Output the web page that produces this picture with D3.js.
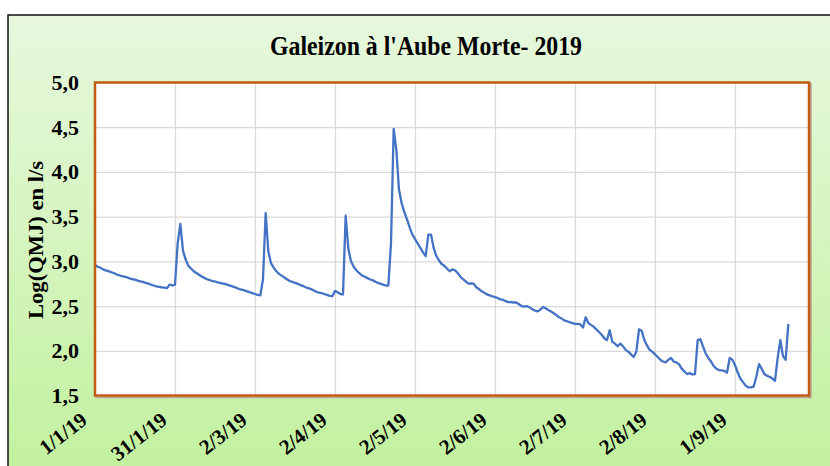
<!DOCTYPE html>
<html lang="fr">
<head>
<meta charset="utf-8">
<script src="https://cdn.jsdelivr.net/npm/d3@7"></script>
<style>
  body { margin: 0; background: #fff; }
  text { font-family: "Liberation Serif", "Times New Roman", serif; font-weight: bold; fill: #000; }
</style>
</head>
<body>
<div id="chart"></div>
<script>
  const title = "Galeizon à l'Aube Morte- 2019";
  const yTitle = "Log(QMJ) en l/s";

  // x axis: day index from 1/1/19, one label every 30 days
  const tickDays = [0, 30, 60, 90, 120, 150, 180, 210, 240];
  const tickLabels = ["1/1/19", "31/1/19", "2/3/19", "2/4/19", "2/5/19", "2/6/19", "2/7/19", "2/8/19", "1/9/19"];
  const yTicks = [1.5, 2.0, 2.5, 3.0, 3.5, 4.0, 4.5, 5.0];

  // daily Log(QMJ)
  const qmj = [
    2.96, 2.94, 2.93, 2.91, 2.90, 2.89, 2.88, 2.87, 2.855, 2.845,
    2.835, 2.83, 2.82, 2.81, 2.80, 2.795, 2.785, 2.775, 2.77, 2.76,
    2.75, 2.74, 2.73, 2.72, 2.715, 2.71, 2.705, 2.70, 2.74, 2.73,
    2.74, 3.20, 3.42, 3.12, 3.02, 2.95, 2.92, 2.89, 2.87, 2.85,
    2.83, 2.815, 2.80, 2.79, 2.78, 2.775, 2.765, 2.76, 2.75, 2.745,
    2.735, 2.725, 2.715, 2.705, 2.69, 2.685, 2.675, 2.665, 2.655, 2.645,
    2.635, 2.625, 2.62, 2.80, 3.54, 3.11, 2.98, 2.93, 2.89, 2.86,
    2.84, 2.82, 2.80, 2.78, 2.77, 2.76, 2.75, 2.735, 2.725, 2.71,
    2.70, 2.69, 2.675, 2.66, 2.65, 2.645, 2.635, 2.625, 2.615, 2.61,
    2.67, 2.655, 2.635, 2.63, 3.51, 3.14, 3.00, 2.94, 2.90, 2.87,
    2.845, 2.83, 2.815, 2.80, 2.79, 2.775, 2.76, 2.75, 2.74, 2.73,
    2.73, 3.20, 4.48, 4.25, 3.80, 3.65, 3.55, 3.47, 3.38, 3.30,
    3.25, 3.20, 3.15, 3.10, 3.06, 3.30, 3.30, 3.15, 3.06, 3.01,
    2.97, 2.95, 2.92, 2.89, 2.91, 2.90, 2.87, 2.83, 2.80, 2.775,
    2.75, 2.755, 2.75, 2.71, 2.69, 2.665, 2.65, 2.63, 2.62, 2.61,
    2.60, 2.59, 2.575, 2.57, 2.555, 2.545, 2.545, 2.54, 2.54, 2.52,
    2.50, 2.495, 2.50, 2.485, 2.465, 2.45, 2.44, 2.46, 2.49, 2.475,
    2.455, 2.44, 2.42, 2.40, 2.375, 2.36, 2.34, 2.33, 2.32, 2.31,
    2.30, 2.30, 2.295, 2.26, 2.375, 2.31, 2.29, 2.27, 2.24, 2.21,
    2.18, 2.14, 2.12, 2.23, 2.10, 2.08, 2.05, 2.08, 2.05, 2.01,
    1.99, 1.96, 1.93, 1.99, 2.24, 2.225, 2.12, 2.06, 2.01, 1.99,
    1.96, 1.93, 1.90, 1.88, 1.87, 1.90, 1.92, 1.88, 1.87, 1.85,
    1.80, 1.77, 1.74, 1.75, 1.735, 1.74, 2.12, 2.13, 2.05, 1.97,
    1.92, 1.88, 1.83, 1.80, 1.785, 1.78, 1.775, 1.755, 1.92, 1.90,
    1.84, 1.76, 1.69, 1.65, 1.61, 1.59, 1.59, 1.60, 1.71, 1.85,
    1.80, 1.74, 1.72, 1.71, 1.69, 1.665, 1.92, 2.12, 1.94, 1.90,
    2.30
  ];

  const svgWidth = 830;
  const svgHeight = 466;
  const plot = {left: 95, right: 809, top: 82.5, bottom: 395.5};
  const plotW = plot.right - plot.left;
  const plotH = plot.bottom - plot.top;

  const fr = d3.formatLocale({decimal: ",", thousands: " ", grouping: [3], currency: ["", " €"]});
  const fmt = fr.format(".1f");

  const svg = d3.select("#chart").append("svg")
    .attr("width", svgWidth)
    .attr("height", svgHeight);

  // chart area background
  const grad = svg.append("defs").append("linearGradient")
    .attr("id", "bg").attr("x1", 0).attr("y1", 0).attr("x2", 0).attr("y2", 1);
  grad.append("stop").attr("offset", "0%").attr("stop-color", "#e7f8de");
  grad.append("stop").attr("offset", "100%").attr("stop-color", "#c2f19d");

  svg.append("rect")
    .attr("x", 8).attr("y", 15)
    .attr("width", svgWidth).attr("height", svgHeight)
    .attr("fill", "url(#bg)")
    .attr("stroke", "#111").attr("stroke-width", 1.5);

  const x = d3.scaleLinear().domain([0, 267.75]).range([plot.left, plot.right]);
  const y = d3.scaleLinear().domain([1.5, 5]).range([plot.bottom, plot.top]);

  // plot area: shadow, then white panel
  svg.append("rect")
    .attr("x", plot.left + 1.5).attr("y", plot.top + 1.5)
    .attr("width", plotW).attr("height", plotH)
    .attr("fill", "none").attr("stroke", "#b5a898").attr("stroke-width", 2.5);
  svg.append("rect")
    .attr("x", plot.left).attr("y", plot.top)
    .attr("width", plotW).attr("height", plotH)
    .attr("fill", "#fff");

  // gridlines
  const gridX = svg.append("g")
    .attr("transform", `translate(0,${plot.bottom})`)
    .call(d3.axisBottom(x).tickValues(tickDays).tickSize(-plotH).tickFormat(""));
  const gridY = svg.append("g")
    .attr("transform", `translate(${plot.left},0)`)
    .call(d3.axisLeft(y).tickValues(yTicks).tickSize(-plotW).tickFormat(""));
  [gridX, gridY].forEach(g => {
    g.select(".domain").remove();
    g.selectAll("line").attr("stroke", "#d9d9d9").attr("stroke-width", 1.3);
  });

  // series
  const line = d3.line()
    .x((d, i) => x(i))
    .y(d => y(d));
  svg.append("path")
    .datum(qmj)
    .attr("d", line)
    .attr("fill", "none")
    .attr("stroke", "#4472c4")
    .attr("stroke-width", 2.3)
    .attr("stroke-linejoin", "round");

  // plot border
  svg.append("rect")
    .attr("x", plot.left).attr("y", plot.top)
    .attr("width", plotW).attr("height", plotH)
    .attr("fill", "none").attr("stroke", "#c55a11").attr("stroke-width", 2.5);

  // y axis labels
  const yAxis = svg.append("g")
    .attr("transform", `translate(${plot.left},0)`)
    .call(d3.axisLeft(y).tickValues(yTicks).tickFormat(fmt).tickSize(0).tickPadding(16));
  yAxis.select(".domain").remove();
  yAxis.selectAll("text")
    .attr("font-family", null)
    .attr("font-size", 22)
    .attr("fill", null);

  // x axis labels
  const xAxis = svg.append("g")
    .attr("transform", `translate(0,${plot.bottom})`)
    .call(d3.axisBottom(x).tickValues(tickDays).tickFormat((d, i) => tickLabels[i]).tickSize(0));
  xAxis.select(".domain").remove();
  xAxis.selectAll("text")
    .attr("font-family", null)
    .attr("font-size", 21)
    .attr("fill", null)
    .attr("x", 0).attr("y", 0).attr("dy", 0)
    .attr("text-anchor", "end")
    .attr("transform", "translate(-7,27) rotate(-38)");

  // titles
  svg.append("text")
    .attr("x", 426).attr("y", 55)
    .attr("text-anchor", "middle")
    .attr("font-size", 27)
    .attr("textLength", 312)
    .attr("lengthAdjust", "spacingAndGlyphs")
    .text(title);

  svg.append("text")
    .attr("transform", "translate(43,240) rotate(-90)")
    .attr("text-anchor", "middle")
    .attr("font-size", 20)
    .attr("textLength", 158)
    .attr("lengthAdjust", "spacingAndGlyphs")
    .text(yTitle);
</script>
</body>
</html>
